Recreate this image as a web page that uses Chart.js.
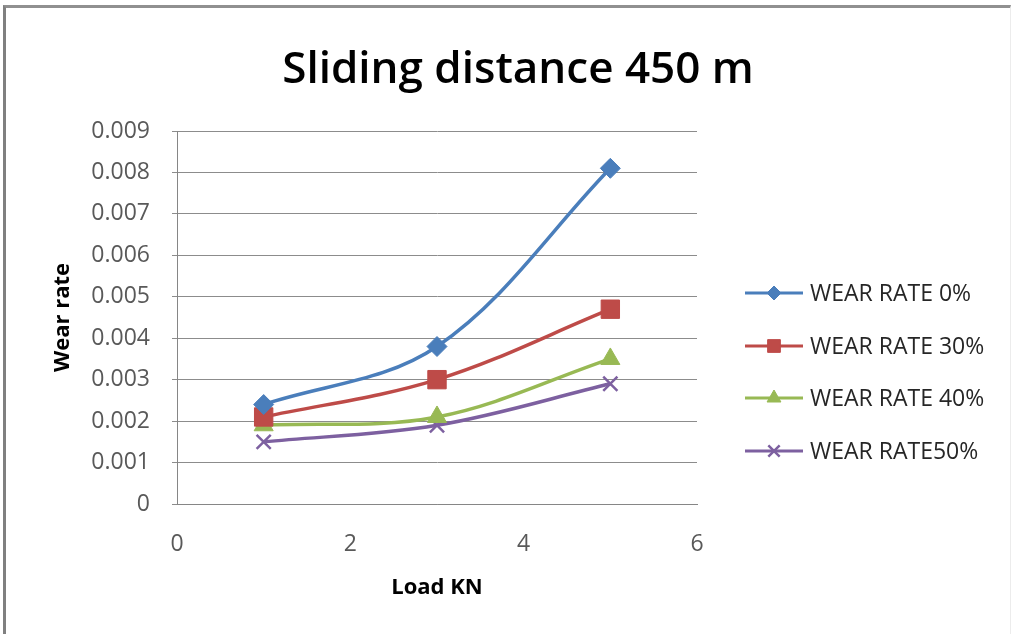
<!DOCTYPE html>
<html>
<head>
<meta charset="utf-8">
<title>Sliding distance 450 m</title>
<script src="https://cdn.jsdelivr.net/npm/chart.js@4/dist/chart.umd.min.js"></script>
<style>
  html, body { margin: 0; padding: 0; background: #fff; }
  #wrap { position: relative; width: 1017px; height: 634px; }
  #frame {
    position: absolute; left: 3px; top: 5px; right: 6px; bottom: 0;
    border-left: 3px solid #808080; border-top: 3px solid #909090;
    border-right: 1px solid #ececec;
    pointer-events: none;
  }
</style>
</head>
<body>
<div id="wrap">
  <canvas id="wearChart" width="1017" height="634"></canvas>
  <div id="frame"></div>
</div>
<script>
// load (KN) and wear rate per filler content
const loads = [1, 3, 5];
const wear0 = [0.0024, 0.0038, 0.0081];
const wear30 = [0.0021, 0.0030, 0.0047];
const wear40 = [0.0019, 0.0021, 0.0035];
const wear50 = [0.0015, 0.0019, 0.0029];
const seriesNames = ["WEAR RATE 0%", "WEAR RATE 30%", "WEAR RATE 40%", "WEAR RATE50%"];
const yTicks = [0, 0.001, 0.002, 0.003, 0.004, 0.005, 0.006, 0.007, 0.008, 0.009];
const xTicks = [0, 2, 4, 6];

const colors = ["#4a7ebb", "#be4b48", "#98b954", "#7d60a0"];
const markers = ["rectRot", "rect", "triangle", "crossRot"];
const markerSize = [10, 13, 11, 10];
const legendMarkerSize = [7, 9, 8, 8];

function points(values) {
  return loads.map((x, i) => ({ x: x, y: values[i] }));
}

const datasets = [wear0, wear30, wear40, wear50].map((vals, i) => ({
  label: seriesNames[i],
  data: points(vals),
  borderColor: colors[i],
  backgroundColor: colors[i],
  borderWidth: 3.5,
  tension: 0.35,
  pointStyle: markers[i],
  pointRadius: markerSize[i],
  pointBorderColor: colors[i],
  pointBackgroundColor: colors[i],
  pointBorderWidth: i === 3 ? 2.5 : 1,
}));

// title and right hand legend drawn straight onto the canvas
const decorations = {
  id: "decorations",
  afterDraw(chart) {
    const ctx = chart.ctx;
    ctx.save();
    ctx.fillStyle = "#000";
    ctx.font = "600 44px 'Open Sans'";
    ctx.textAlign = "center";
    ctx.textBaseline = "middle";
    ctx.fillText("Sliding distance 450 m", 518, 70);

    const rows = [293, 346, 398, 451];
    ctx.font = "23px 'Open Sans'";
    ctx.textAlign = "left";
    chart.data.datasets.forEach((ds, i) => {
      const y = rows[i];
      ctx.strokeStyle = ds.borderColor;
      ctx.lineWidth = 3;
      ctx.beginPath();
      ctx.moveTo(745, y);
      ctx.lineTo(803, y);
      ctx.stroke();
      // drawPoint uses whatever fill/stroke the context holds
      ctx.fillStyle = ds.backgroundColor;
      ctx.strokeStyle = ds.borderColor;
      ctx.lineWidth = ds.pointBorderWidth;
      Chart.helpers.drawPoint(ctx, {
        pointStyle: ds.pointStyle,
        radius: legendMarkerSize[i],
        borderWidth: ds.pointBorderWidth,
        rotation: 0,
      }, 774, y);
      ctx.fillStyle = "#262626";
      ctx.fillText(ds.label, 810, y + 1);
    });
    ctx.restore();
  },
};

const tickFont = { family: "Open Sans", size: 23 };
const axisTitleFont = { family: "Open Sans", size: 22, weight: "bold" };

new Chart(document.getElementById("wearChart"), {
  type: "line",
  data: { datasets: datasets },
  plugins: [decorations],
  options: {
    responsive: false,
    animation: false,
    layout: { padding: { left: 46, top: 131, right: 320, bottom: 29 } },
    plugins: {
      legend: { display: false },
      title: { display: false },
      tooltip: { enabled: false },
    },
    scales: {
      x: {
        type: "linear",
        min: 0,
        max: 6,
        afterBuildTicks(scale) {
          scale.ticks = xTicks.map((v) => ({ value: v }));
        },
        afterFit(scale) {
          scale.height = 101;
        },
        grid: { display: false, drawTicks: true, tickLength: 5 },
        border: { color: "#868686", width: 1 },
        ticks: { color: "#595959", font: tickFont, padding: 22, maxRotation: 0 },
        title: { display: true, text: "Load KN", color: "#000", font: axisTitleFont },
      },
      y: {
        min: 0,
        max: 0.009,
        afterBuildTicks(scale) {
          scale.ticks = yTicks.map((v) => ({ value: v }));
        },
        afterFit(scale) {
          scale.width = 131;
        },
        grid: { color: "#8c8c8c", lineWidth: 1, tickLength: 5 },
        border: { color: "#868686", width: 1 },
        ticks: {
          color: "#595959",
          font: tickFont,
          padding: 22,
          callback: (v) => (v === 0 ? "0" : v.toFixed(3)),
        },
        title: { display: true, text: "Wear rate", color: "#000", font: axisTitleFont },
      },
    },
  },
});
</script>
</body>
</html>
